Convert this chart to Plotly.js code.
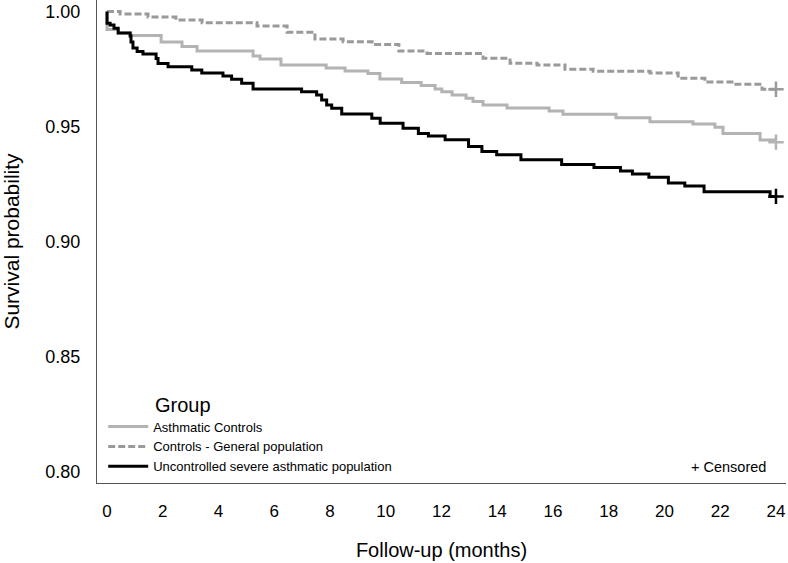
<!DOCTYPE html>
<html>
<head>
<meta charset="utf-8">
<script src="https://cdn.plot.ly/plotly-3.0.1.min.js"></script>
<style>html,body{margin:0;padding:0;background:#fff;}#chart{width:788px;height:563px;}</style>
</head>
<body>
<div id="chart"></div>
<script>
// Group names
var groupNames = ["Asthmatic Controls", "Controls - General population", "Uncontrolled severe asthmatic population"];
var legendTitle = "Group";

// Asthmatic Controls (solid light gray)
var asthmaTime = [0, 0.0, 0.40, 0.83, 1.94, 2.69, 3.23, 5.24, 5.49, 6.24, 7.86, 8.54, 9.36, 9.79, 10.57, 11.27, 11.77, 12.01, 12.38, 12.88, 13.13, 13.49, 14.35, 15.86, 16.36, 18.26, 19.48, 21.02, 21.81, 22.10, 23.43, 24];
var asthmaSurv = [1.0, 0.9922, 0.9907, 0.9896, 0.9867, 0.9848, 0.9828, 0.9807, 0.9794, 0.9767, 0.9754, 0.9741, 0.9730, 0.9707, 0.9691, 0.9678, 0.9663, 0.9651, 0.9637, 0.9623, 0.9609, 0.9594, 0.9580, 0.9567, 0.9553, 0.9538, 0.9521, 0.9511, 0.9497, 0.9470, 0.9441, 0.9441];

// Controls - General population (dashed gray)
var generalTime = [0, 0.47, 1.47, 2.47, 3.41, 5.38, 6.46, 7.46, 8.47, 9.51, 10.47, 11.48, 13.49, 14.46, 15.43, 16.43, 17.44, 19.48, 20.49, 21.45, 22.49, 23.50, 24];
var generalSurv = [1.0, 0.9989, 0.9976, 0.9963, 0.9951, 0.9937, 0.9910, 0.9880, 0.9869, 0.9857, 0.9828, 0.9817, 0.9797, 0.9775, 0.9767, 0.9749, 0.9740, 0.9733, 0.9710, 0.9693, 0.9684, 0.9662, 0.9662];

// Uncontrolled severe asthmatic population (solid black)
var severeTime = [0, 0.0, 0.11, 0.25, 0.40, 0.83, 0.86, 0.93, 1.08, 1.29, 1.76, 1.83, 2.19, 3.04, 3.40, 4.16, 4.47, 4.83, 5.24, 6.98, 7.52, 7.70, 7.88, 8.06, 8.42, 9.50, 9.80, 10.62, 11.17, 11.53, 12.13, 12.97, 13.45, 13.98, 14.85, 16.31, 17.47, 18.42, 18.85, 19.44, 20.14, 20.73, 21.42, 23.79, 24];
var severeSurv = [1.0, 0.9949, 0.9941, 0.9927, 0.9907, 0.9894, 0.9867, 0.9841, 0.9826, 0.9815, 0.9796, 0.9774, 0.9760, 0.9746, 0.9733, 0.9720, 0.9705, 0.9688, 0.9663, 0.9651, 0.9637, 0.9615, 0.9594, 0.9579, 0.9554, 0.9536, 0.9514, 0.9492, 0.9470, 0.9459, 0.9442, 0.9413, 0.9391, 0.9377, 0.9355, 0.9335, 0.9322, 0.9307, 0.9294, 0.9279, 0.9254, 0.9241, 0.9216, 0.9196, 0.9196];

// Censoring marks
var censorTime = [24, 24, 24];
var censorSurv = [0.9432, 0.9662, 0.9196];

var yTicks = [0.80, 0.85, 0.90, 0.95, 1.00];
var xTicks = [0, 2, 4, 6, 8, 10, 12, 14, 16, 18, 20, 22, 24];

var colors = ["#b3b3b3", "#9a9a9a", "#000000"];
var font = "Liberation Sans, Arial, Helvetica, sans-serif";

var traces = [
  {x: asthmaTime, y: asthmaSurv, name: groupNames[0], type: "scatter", mode: "lines",
   line: {shape: "hv", color: colors[0], width: 3}},
  {x: generalTime, y: generalSurv, name: groupNames[1], type: "scatter", mode: "lines",
   line: {shape: "hv", color: colors[1], width: 3, dash: "7px,3px"}},
  {x: severeTime, y: severeSurv, name: groupNames[2], type: "scatter", mode: "lines",
   line: {shape: "hv", color: colors[2], width: 3}},
  {x: censorTime, y: censorSurv, type: "scatter", mode: "markers", showlegend: false, hoverinfo: "skip",
   marker: {symbol: "cross-thin-open", size: 11, line: {width: 2.5, color: colors}, color: colors}}
];

var layout = {
  width: 788, height: 563,
  margin: {l: 97, r: 2, t: 0, b: 80, pad: 0},
  paper_bgcolor: "#ffffff", plot_bgcolor: "#ffffff",
  font: {family: font, color: "#000000", size: 16},
  showlegend: true,
  xaxis: {
    range: [-0.36, 24.36], tickvals: xTicks, ticks: "outside", ticklen: 12, tickcolor: "rgba(0,0,0,0)",
    showgrid: false, zeroline: false, showline: true, linecolor: "#555555", linewidth: 1.2,
    tickfont: {size: 17, family: font},
    title: {text: "Follow-up (months)", font: {size: 20, family: font}, standoff: 23}
  },
  yaxis: {
    range: [0.795, 1.005], tickvals: yTicks, tickformat: ".2f", ticks: "outside", ticklen: 12, tickcolor: "rgba(0,0,0,0)",
    showgrid: false, zeroline: false, showline: true, linecolor: "#555555", linewidth: 1.2,
    tickfont: {size: 18, family: font},
    title: {text: "Survival probability", font: {size: 21, family: font}, standoff: 20}
  },
  legend: {
    x: 0.009, y: 0.003, xanchor: "left", yanchor: "bottom",
    bgcolor: "rgba(255,255,255,0)", borderwidth: 0,
    font: {size: 13, family: font}, itemwidth: 40, tracegroupgap: 0
  },
  annotations: [
    {text: legendTitle, xref: "paper", yref: "paper", x: (153 - 97) / 689, y: (483 - 405) / 483,
     xanchor: "left", yanchor: "middle", showarrow: false, font: {size: 20, family: font}},
    {text: "+ Censored", xref: "paper", yref: "paper", x: 0.9745, y: 0.033, xanchor: "right", yanchor: "middle",
     showarrow: false, font: {size: 14.5, family: font}}
  ]
};

Plotly.newPlot("chart", traces, layout, {displayModeBar: false, staticPlot: true});
</script>
</body>
</html>
